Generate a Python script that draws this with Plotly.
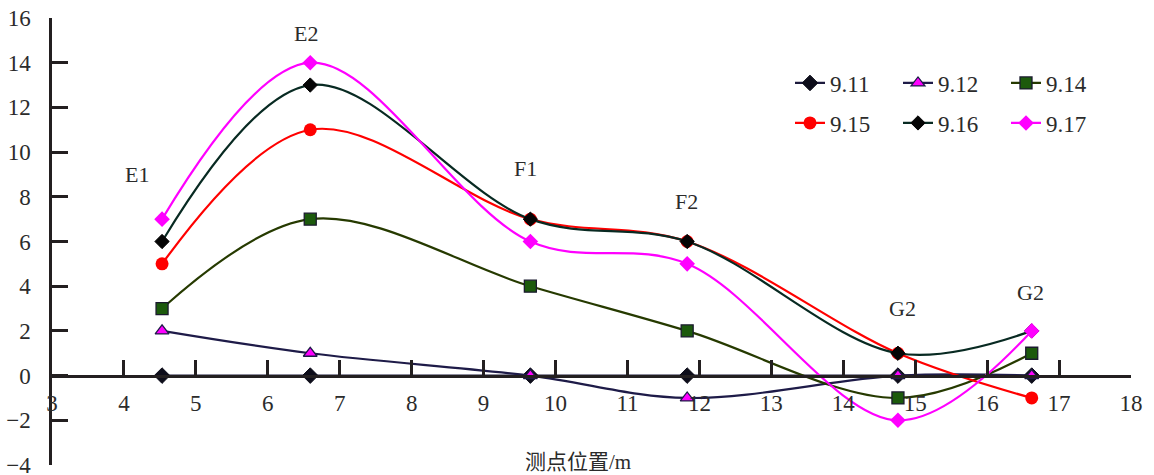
import plotly.graph_objects as go

# Measuring-point positions along the line (m)
positions = [4.53, 6.59, 9.65, 11.83, 14.76, 16.62]

# Readings per survey date
dates = ["9.11", "9.12", "9.14", "9.15", "9.16", "9.17"]
v_0911 = [0, 0, 0, 0, 0, 0]
v_0912 = [2, 1, 0, -1, 0, 0]
v_0914 = [3, 7, 4, 2, -1, 1]
v_0915 = [5, 11, 7, 6, 1, -1]
v_0916 = [6, 13, 7, 6, 1, 2]
v_0917 = [7, 14, 6, 5, -2, 2]

# Point labels shown above the curves
point_names = ["E1", "E2", "F1", "F2", "G2", "G2"]
point_name_x = [4.18, 6.53, 9.58, 11.82, 14.83, 16.6]
point_name_y = [9.0, 15.3, 9.25, 7.8, 3.0, 3.7]

x_ticks = list(range(3, 19))
y_ticks = list(range(-4, 17, 2))

serif = "Liberation Serif, Times New Roman, serif"
text_color = "#2b2b2b"
axis_color = "#231f20"

styles = [
    dict(line=dict(color="#1c1a3c", width=2.2),
         marker=dict(symbol="diamond", size=12, color="#0d0d1a",
                     line=dict(color="#0d0d1a", width=1))),
    dict(line=dict(color="#1e1b48", width=2.2),
         marker=dict(symbol="triangle-up", size=12, color="#ff00ff",
                     line=dict(color="#1e1b48", width=1.3))),
    dict(line=dict(color="#263a00", width=2.2),
         marker=dict(symbol="square", size=12, color="#1c5a0c",
                     line=dict(color="#1a1a2e", width=1.3))),
    dict(line=dict(color="#ff0000", width=2.2),
         marker=dict(symbol="circle", size=13, color="#ff0000",
                     line=dict(color="#ff0000", width=0))),
    dict(line=dict(color="#082a22", width=2.2),
         marker=dict(symbol="diamond", size=11, color="#050505",
                     line=dict(color="#050505", width=1))),
    dict(line=dict(color="#ff00ff", width=2.2),
         marker=dict(symbol="diamond", size=12, color="#ff00ff",
                     line=dict(color="#ff00ff", width=0))),
]

series = [v_0911, v_0912, v_0914, v_0915, v_0916, v_0917]

fig = go.Figure()
for i, (name, vals, st) in enumerate(zip(dates, series, styles)):
    fig.add_trace(go.Scatter(
        x=positions, y=vals, name=name,
        mode="lines+markers",
        line=dict(shape="spline", smoothing=1.0, **st["line"]),
        marker=st["marker"],
        legend="legend" if i < 3 else "legend2",
    ))

for name, px, py in zip(point_names, point_name_x, point_name_y):
    fig.add_annotation(x=px, y=py, xref="x", yref="y", text=name,
                       showarrow=False,
                       font=dict(family=serif, size=22, color=text_color))

fig.add_annotation(x=0.4875, y=0.006, xref="paper", yref="paper",
                   text="测点位置/m", showarrow=False, yanchor="middle",
                   font=dict(family="Liberation Serif, Noto Sans CJK SC",
                             size=21, color=text_color))

legend_common = dict(
    orientation="h", xref="paper", yref="paper",
    xanchor="left", yanchor="middle",
    bgcolor="rgba(0,0,0,0)", borderwidth=0,
    entrywidth=63, entrywidthmode="pixels",
    font=dict(family=serif, size=23, color=text_color),
    itemwidth=30, tracegroupgap=0,
)

fig.update_layout(
    width=1154, height=475,
    margin=dict(l=52, r=23, t=18, b=10, autoexpand=False),
    paper_bgcolor="white", plot_bgcolor="white",
    legend=dict(x=(790 - 52) / 1079, y=(465 - 83) / 447, **legend_common),
    legend2=dict(x=(790 - 52) / 1079, y=(465 - 123) / 447, **legend_common),
    xaxis=dict(
        range=[3, 18], tickvals=x_ticks, ticktext=[str(t) for t in x_ticks],
        anchor="free", position=0.2, automargin=False,
        showline=True, linecolor=axis_color, linewidth=2.5,
        ticks="inside", ticklen=15, tickwidth=2.5, tickcolor=axis_color,
        ticklabelstandoff=6,
        showgrid=False, zeroline=False,
        tickfont=dict(family=serif, size=23, color=text_color),
    ),
    yaxis=dict(
        range=[-4, 16], tickvals=y_ticks, automargin=False,
        showline=True, linecolor=axis_color, linewidth=2.5,
        ticks="inside", ticklen=16, tickwidth=2.5, tickcolor=axis_color,
        ticklabelstandoff=14, ticklabeloverflow="allow",
        showgrid=False, zeroline=False,
        tickfont=dict(family=serif, size=23, color=text_color),
    ),
    showlegend=True,
)

fig.write_html("out.html")
